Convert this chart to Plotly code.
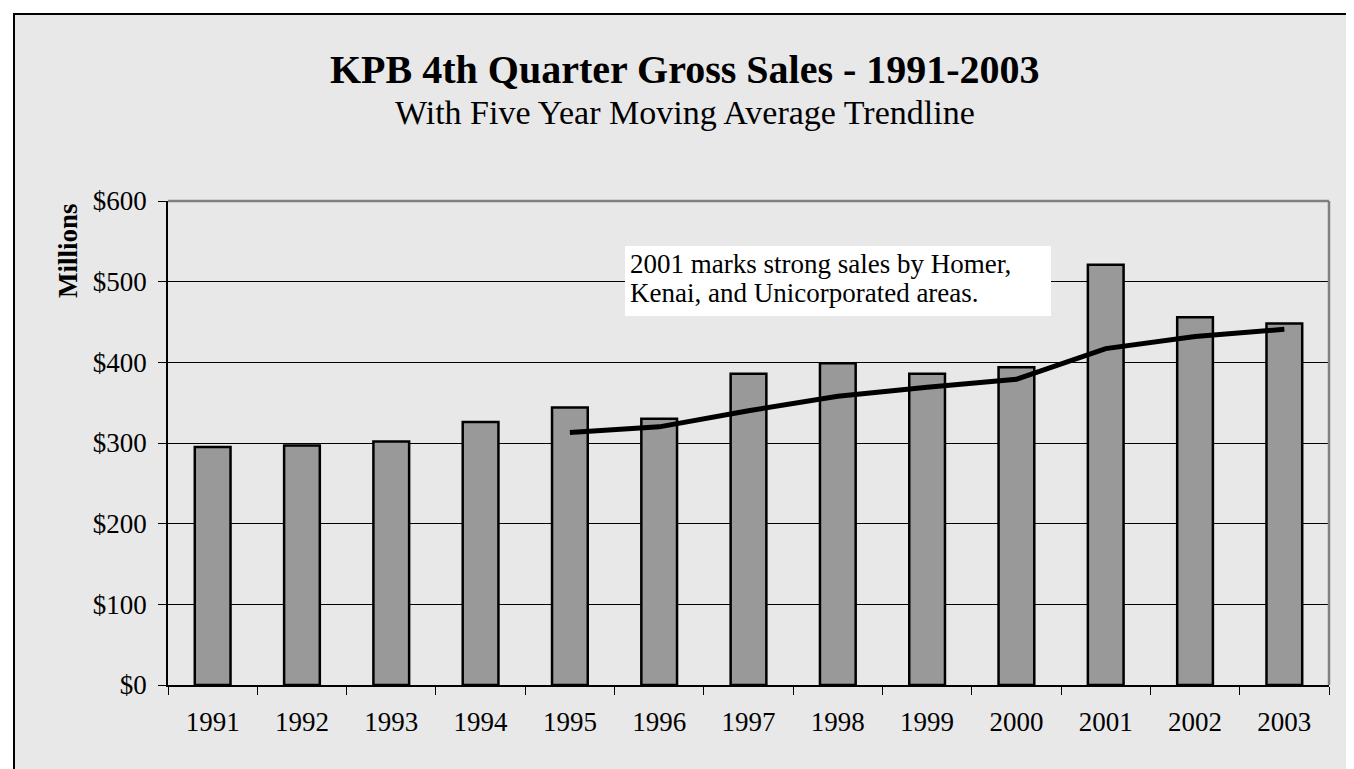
import plotly.graph_objects as go

years = ["1991", "1992", "1993", "1994", "1995", "1996", "1997",
         "1998", "1999", "2000", "2001", "2002", "2003"]
sales = [295, 297, 302, 326, 344, 330, 386, 399, 386, 394, 521, 456, 448]
trend_years = ["1995", "1996", "1997", "1998", "1999", "2000", "2001", "2002", "2003"]
trend_values = [313, 320, 340, 358, 369, 379, 417, 432, 441]
y_ticks = [0, 100, 200, 300, 400, 500, 600]
y_tick_labels = ["$0", "$100", "$200", "$300", "$400", "$500", "$600"]

title_text = "KPB 4th Quarter Gross Sales - 1991-2003"
subtitle_text = "With Five Year Moving Average Trendline"
note_lines = ["2001 marks strong sales by Homer,", "Kenai, and Unicorporated areas."]

W, H = 1354, 769
L, R, T, B = 160, 1321, 193, 677
FONT = "Liberation Serif, Times New Roman, serif"


def px(xp):
    return (xp - L) / (R - L)


def py(yp):
    return (B - yp) / (B - T)


fig = go.Figure()
fig.add_trace(go.Bar(
    x=years, y=sales, width=0.4,
    marker=dict(color="#999999", line=dict(color="#000000", width=2.5)),
    showlegend=False, hoverinfo="x+y",
))
fig.add_trace(go.Scatter(
    x=trend_years, y=trend_values, mode="lines",
    line=dict(color="#000000", width=5),
    showlegend=False,
))

annotations = [
    dict(text="<b>" + title_text + "</b>", xref="paper", yref="paper",
         x=px(677), y=py(62), xanchor="center", yanchor="middle",
         showarrow=False, font=dict(family=FONT, size=40, color="#000000")),
    dict(text=subtitle_text, xref="paper", yref="paper",
         x=px(677), y=py(105), xanchor="center", yanchor="middle",
         showarrow=False, font=dict(family=FONT, size=34, color="#000000")),
    dict(text="<b>Millions</b>", xref="paper", yref="paper",
         x=px(60), y=py(242), xanchor="center", yanchor="middle",
         textangle=-90, showarrow=False,
         font=dict(family=FONT, size=27, color="#000000")),
]
for i, line in enumerate(note_lines):
    annotations.append(dict(
        text=line, xref="paper", yref="paper",
        x=px(620), y=py(256 + 29 * i), xanchor="left", yanchor="middle",
        align="left", showarrow=False,
        font=dict(family=FONT, size=27, color="#000000")))

fig.update_layout(
    width=W, height=H,
    margin=dict(l=L, r=W - R, t=T, b=H - B, pad=0),
    paper_bgcolor="#ffffff",
    plot_bgcolor="#ffffff",
    font=dict(family=FONT, size=27, color="#000000"),
    bargap=0.6,
    xaxis=dict(
        type="category", range=[-0.5, 12.5],
        showline=True, linecolor="#000000", linewidth=1.5,
        ticks="outside", ticklen=8, tickwidth=1.2, tickcolor="#000000",
        tickson="boundaries", showgrid=False, ticklabelstandoff=12,
        tickfont=dict(family=FONT, size=27, color="#000000"),
        fixedrange=True,
    ),
    yaxis=dict(
        range=[0, 600], tickvals=y_ticks, ticktext=y_tick_labels,
        showline=True, linecolor="#000000", linewidth=1.5,
        ticks="outside", ticklen=8, tickwidth=1.2, tickcolor="#000000",
        showgrid=True, gridcolor="#000000", gridwidth=1,
        zeroline=False, ticklabelstandoff=6,
        tickfont=dict(family=FONT, size=27, color="#000000"),
        fixedrange=True,
    ),
    shapes=[
        dict(type="rect", xref="paper", yref="paper",
             x0=px(6), x1=px(1352), y0=py(800), y1=py(6),
             line=dict(color="#000000", width=2), fillcolor="#e8e8e8",
             layer="below"),
        dict(type="rect", xref="paper", yref="paper",
             x0=px(617), x1=px(1043), y0=py(308), y1=py(238),
             line=dict(width=0), fillcolor="#ffffff", layer="above"),
        dict(type="line", xref="paper", yref="paper",
             x0=0, x1=1, y0=1, y1=1,
             line=dict(color="#808080", width=2.5), layer="above"),
        dict(type="line", xref="paper", yref="paper",
             x0=1, x1=1, y0=0, y1=1,
             line=dict(color="#808080", width=2.5), layer="above"),
    ],
    annotations=annotations,
)

fig.write_html("out.html")
